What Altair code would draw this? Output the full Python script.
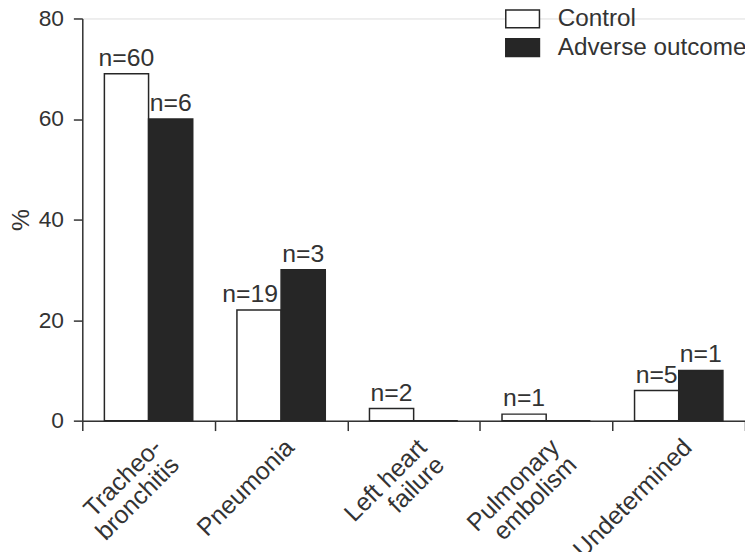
import altair as alt
import pandas as pd

categories = ["Tracheo-|bronchitis", "Pneumonia", "Left heart|failure", "Pulmonary|embolism", "Undetermined"]
groups = ["Control", "Adverse outcome"]
control_pct = [69.0, 22.0, 2.4, 1.3, 6.0]
adverse_pct = [60.0, 30.0, 0.0, 0.0, 10.0]
control_n = ["n=60", "n=19", "n=2", "n=1", "n=5"]
adverse_n = ["n=6", "n=3", "", "", "n=1"]

rows = []
for i, c in enumerate(categories):
    rows.append({"category": c, "group": groups[0], "value": control_pct[i], "label": control_n[i]})
    rows.append({"category": c, "group": groups[1], "value": adverse_pct[i], "label": adverse_n[i]})
df = pd.DataFrame(rows)

FONT = "Arial, Liberation Sans, Helvetica, sans-serif"
DARK = "#262626"
AX = "#333333"
FS = 25

# centre the shorter second line of two-line labels (lines are right-aligned when rotated)
label_expr = (
    "datum.label == 'Left heart|failure' ? ['Left heart', 'failure\u00a0\u00a0\u00a0'] : "
    "datum.label == 'Pulmonary|embolism' ? ['Pulmonary', 'embolism\u00a0'] : "
    "split(datum.label, '|')"
)

x_enc = alt.X(
    "category:N", sort=categories,
    scale=alt.Scale(paddingInner=0, paddingOuter=0),
    axis=alt.Axis(
        title=None, labelAngle=-45, labelAlign="right", labelBaseline="top",
        labelExpr=label_expr, tickBand="extent", tickSize=10,
        domainColor=AX, tickColor=AX, domainWidth=1.5, tickWidth=1.5,
        labelFontSize=FS, labelFont=FONT, labelColor=AX, labelPadding=4,
        labelLineHeight=25, grid=False, labelOverlap=False, labelLimit=400,
    ),
)
xo_enc = alt.XOffset("group:N", sort=groups, scale=alt.Scale(paddingOuter=0.5, paddingInner=0))
y_enc = alt.Y(
    "value:Q", scale=alt.Scale(domain=[0, 80]),
    axis=alt.Axis(
        values=[0, 20, 40, 60, 80], title="%", tickSize=9, grid=False,
        domainColor=AX, tickColor=AX, domainWidth=1.5, tickWidth=1.5,
        labelFontSize=23, labelFont=FONT, labelColor=AX, labelPadding=10,
        titleFontSize=FS, titleFont=FONT, titleColor=AX, titleFontWeight="normal",
        titlePadding=5,
    ),
)

base = alt.Chart(df)

bars = base.mark_bar(stroke=DARK, strokeWidth=1.5).encode(
    x=x_enc, xOffset=xo_enc, y=y_enc,
    color=alt.Color(
        "group:N", sort=groups,
        scale=alt.Scale(domain=groups, range=["white", DARK]),
        legend=alt.Legend(
            title=None, orient="none", legendX=432, legendY=-12,
            symbolType="M-1.5,-0.79H1.5V0.79H-1.5Z", symbolSize=514,
            symbolStrokeColor=DARK, symbolStrokeWidth=1.5,
            labelFontSize=24.5, labelFont=FONT, labelColor=AX, labelOffset=23,
            labelLimit=400, rowPadding=3, padding=0,
        ),
    ),
)

text_main = base.mark_text(
    baseline="alphabetic", dy=-8, fontSize=FS, font=FONT, color=AX
).encode(
    x=alt.X("category:N", sort=categories), xOffset=xo_enc, y="value:Q", text="label:N"
).transform_filter("datum.label != '' && datum.label != 'n=19'")

text_shift = base.mark_text(
    baseline="alphabetic", dy=-8, dx=-9, fontSize=FS, font=FONT, color=AX
).encode(
    x=alt.X("category:N", sort=categories), xOffset=xo_enc, y="value:Q", text="label:N"
).transform_filter("datum.label == 'n=19'")

chart = alt.layer(bars, text_main, text_shift).properties(
    width=669, height=406,
    autosize=alt.AutoSizeParams(type="none"),
    padding={"left": 75, "top": 8, "right": 0, "bottom": 130},
).configure_view(stroke=None).configure(background="white")

chart.save("out.html", embed_options={"renderer": "svg", "actions": False})
